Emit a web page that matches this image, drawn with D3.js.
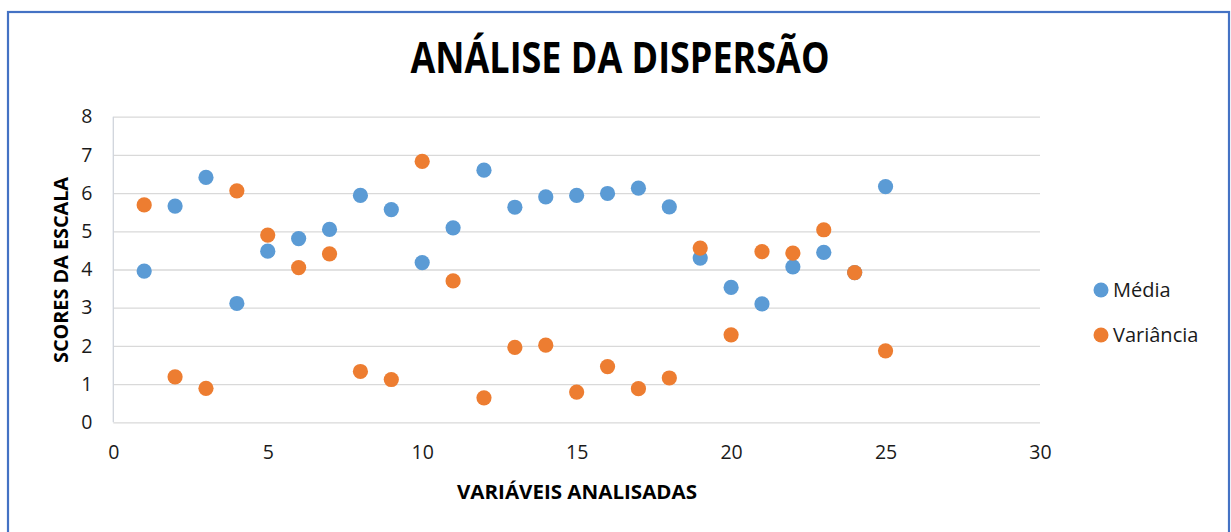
<!DOCTYPE html>
<html>
<head>
<meta charset="utf-8">
<script src="https://d3js.org/d3.v7.min.js"></script>
<style>
  body { margin: 0; background: #fff; }
  .gridlines line { stroke: #d9d9d9; stroke-width: 1.3; }
  .gridlines .domain { stroke: none; }
  .axis text { font-family: "Open Sans", sans-serif; font-size: 19.5px; fill: #1a1a1a; }
</style>
</head>
<body>
<svg id="chart" width="1231" height="532"></svg>
<script>
// variables analysed (x)
const variaveis = d3.range(1, 26);
const media = [3.96, 5.66, 6.41, 3.11, 4.48, 4.81, 5.05, 5.94, 5.57, 4.18,
               5.09, 6.60, 5.63, 5.90, 5.94, 5.99, 6.13, 5.64, 4.30, 3.53,
               3.10, 4.07, 4.45, 3.92, 6.17];
const variancia = [5.69, 1.19, 0.89, 6.06, 4.90, 4.05, 4.41, 1.33, 1.12, 6.83,
                   3.70, 0.64, 1.96, 2.02, 0.79, 1.46, 0.88, 1.16, 4.56, 2.29,
                   4.47, 4.43, 5.04, 3.92, 1.87];
const xTicks = [0, 5, 10, 15, 20, 25, 30];
const yTicks = [0, 1, 2, 3, 4, 5, 6, 7, 8];
const seriesNames = ["Média", "Variância"];
const colors = ["#5b9bd5", "#ed7d31"];

const svg = d3.select("svg#chart");
const margin = {top: 116.7, left: 113.3, right: 1040, bottom: 422.3};

// outer frame
svg.append("rect")
   .attr("x", 8).attr("y", 12)
   .attr("width", 1221).attr("height", 540)
   .attr("fill", "none")
   .attr("stroke", "#4472c4").attr("stroke-width", 2.2);

const xScale = d3.scaleLinear().domain([0, 30]).range([margin.left, margin.right]);
const yScale = d3.scaleLinear().domain([0, 8]).range([margin.bottom, margin.top]);

// gridlines
svg.append("g").attr("class", "gridlines")
   .attr("transform", "translate(" + margin.left + ",0)")
   .call(d3.axisLeft(yScale).tickValues(yTicks).tickSize(-(margin.right - margin.left)).tickFormat(""));

// left axis line
svg.append("line")
   .attr("x1", margin.left).attr("x2", margin.left)
   .attr("y1", margin.top).attr("y2", margin.bottom)
   .attr("stroke", "#d0d4dc").attr("stroke-width", 1.3);

// y tick labels
let leftAxis = d3.axisLeft(yScale).tickValues(yTicks).tickSize(0).tickPadding(21);
svg.append("g").attr("class", "y axis")
   .attr("transform", "translate(" + margin.left + ",0)")
   .call(leftAxis)
   .call(g => g.select(".domain").remove());

// x tick labels
let bottomAxis = d3.axisBottom(xScale).tickValues(xTicks).tickSize(0).tickPadding(23);
svg.append("g").attr("class", "x axis")
   .attr("transform", "translate(0," + margin.bottom + ")")
   .call(bottomAxis)
   .call(g => g.select(".domain").remove());

// points
[media, variancia].forEach((vals, s) => {
    svg.append("g").selectAll("circle")
       .data(vals)
       .join("circle")
       .attr("cx", (d, i) => xScale(variaveis[i]))
       .attr("cy", d => yScale(d))
       .attr("r", 7.6)
       .attr("fill", colors[s]);
});

// title
svg.append("text")
   .attr("x", 620).attr("y", 73)
   .attr("text-anchor", "middle")
   .attr("textLength", 419).attr("lengthAdjust", "spacingAndGlyphs")
   .style("font-family", "'Open Sans', sans-serif")
   .style("font-weight", "bold").style("font-size", "43px")
   .text("ANÁLISE DA DISPERSÃO");

// axis titles
svg.append("text")
   .attr("transform", "translate(68,270) rotate(-90)")
   .attr("text-anchor", "middle")
   .attr("textLength", 186).attr("lengthAdjust", "spacingAndGlyphs")
   .style("font-family", "'Open Sans', sans-serif")
   .style("font-weight", "bold").style("font-size", "19px")
   .text("SCORES DA ESCALA");

svg.append("text")
   .attr("x", 577).attr("y", 499)
   .attr("text-anchor", "middle")
   .attr("textLength", 240).attr("lengthAdjust", "spacingAndGlyphs")
   .style("font-family", "'Open Sans', sans-serif")
   .style("font-weight", "bold").style("font-size", "19px")
   .text("VARIÁVEIS ANALISADAS");

// legend
const legend = svg.append("g").attr("transform", "translate(1101,290)");
seriesNames.forEach((name, i) => {
    legend.append("circle")
          .attr("cx", 0).attr("cy", i * 45)
          .attr("r", 7.5).attr("fill", colors[i]);
    legend.append("text")
          .attr("x", 12).attr("y", i * 45 + 7)
          .style("font-family", "'Open Sans', sans-serif")
          .style("font-size", "20px").style("fill", "#1a1a1a")
          .text(name);
});
</script>
</body>
</html>
